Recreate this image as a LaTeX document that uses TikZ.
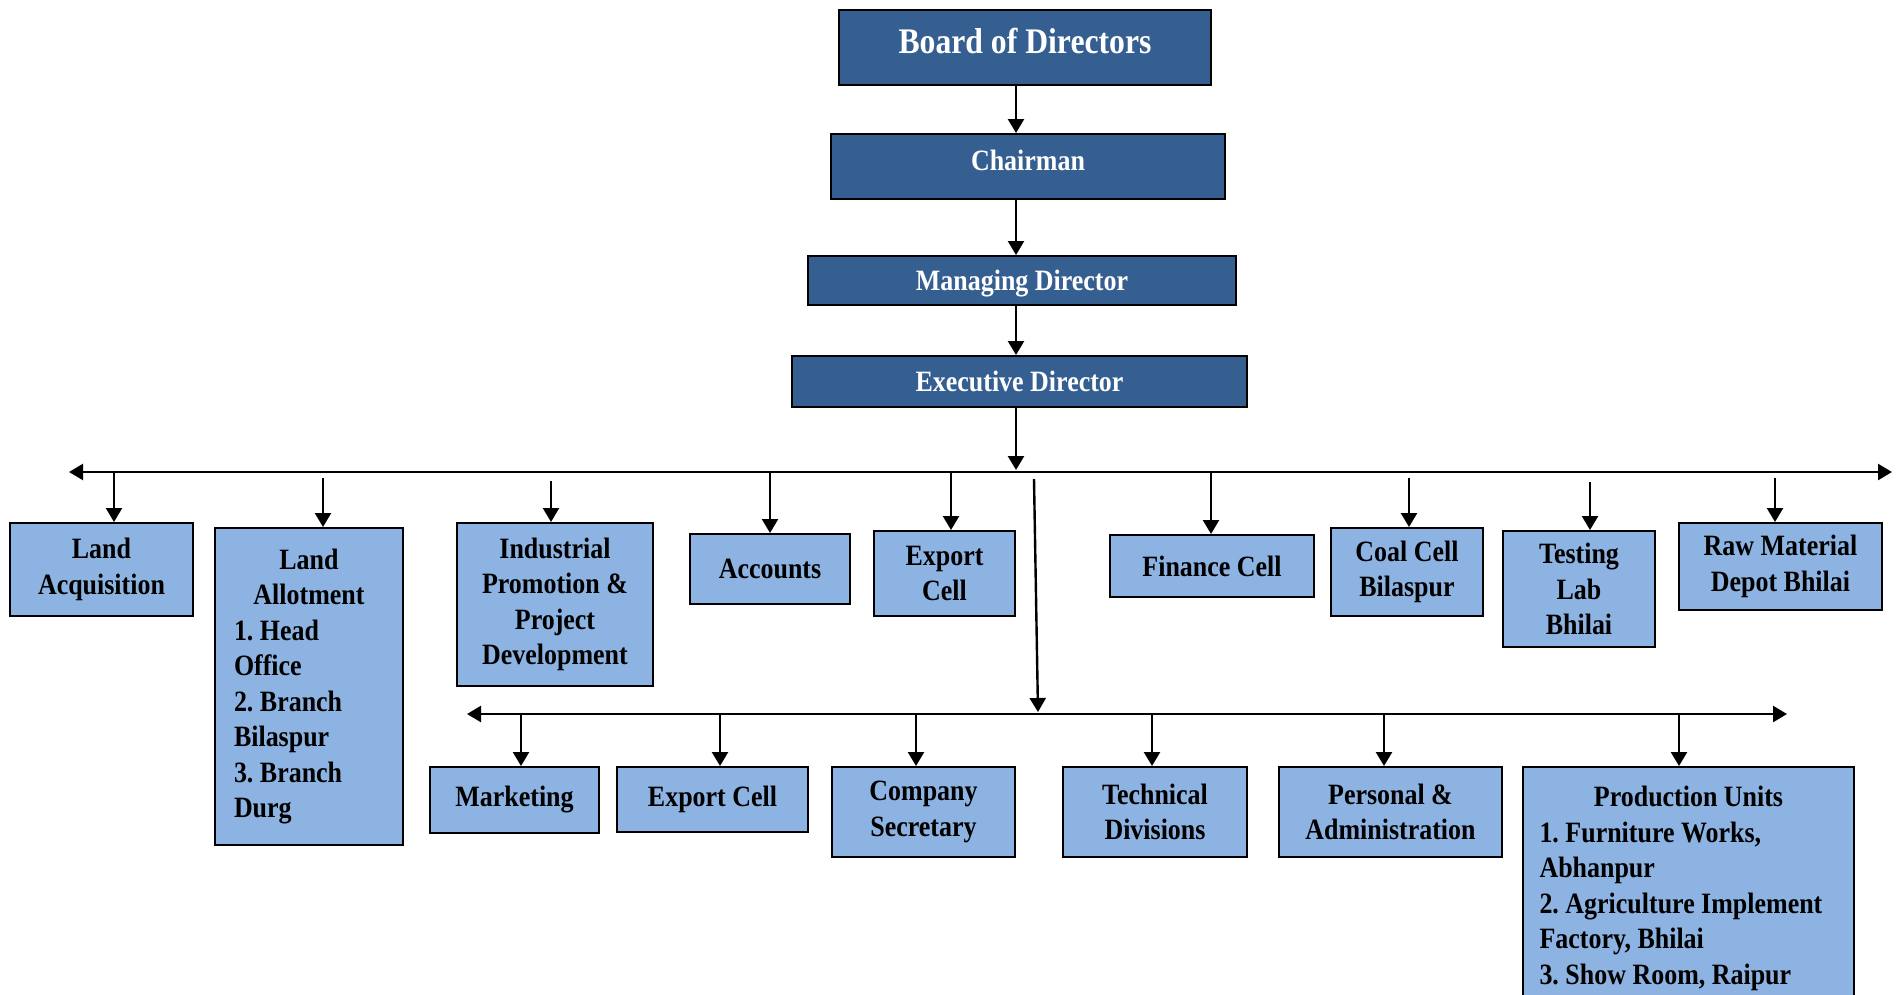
\documentclass[tikz,border=0pt]{standalone}
\usepackage{fontspec}
\setmainfont{Liberation Serif}[FakeStretch=0.88]
\usetikzlibrary{arrows.meta}

\definecolor{headblue}{RGB}{54,95,145}
\definecolor{unitblue}{RGB}{141,179,226}

\tikzset{
  base/.style={draw=black, line width=2pt, inner sep=0pt, align=center,
    font=\fontsize{29.5}{35.5}\selectfont\bfseries\frenchspacing},
  head/.style={base, fill=headblue, text=white},
  unit/.style={base, fill=unitblue, text=black},
  tip/.tip={Triangle[length=14pt,width=16pt]},
  link/.style={line width=2.4pt, -tip},
  bar/.style={line width=2.4pt, tip-tip},
}

\begin{document}
\begin{tikzpicture}[x=1pt,y=-1pt]
\useasboundingbox (0,0) rectangle (1904,994);
\clip (0,0) rectangle (1904,994);

% management chain
\node[head, minimum width=372pt, minimum height=75pt, text depth=14pt,
      font=\fontsize{36}{42}\selectfont\bfseries] (board) at (1025,47.5) {Board of Directors};
\node[head, minimum width=394pt, minimum height=65pt, text depth=13pt] (chair) at (1028,166.5) {Chairman};
\node[head, minimum width=428pt, minimum height=49pt, text depth=0pt] (md) at (1022,280.5) {Managing Director};
\node[head, minimum width=455pt, minimum height=51pt] (ed) at (1019.5,381.5) {Executive Director};

\coordinate (spine) at (1016,0);
\draw[link] (spine |- board.south) -- (spine |- chair.north);
\draw[link] (spine |- chair.south) -- (spine |- md.north);
\draw[link] (spine |- md.south) -- (spine |- ed.north);

% first distribution bar
\coordinate (barL) at (69,472);
\coordinate (barR) at (1892,472);
\draw[bar] (barL) -- (barR);
\draw[link] (spine |- ed.south) -- ([yshift=2pt]spine |- barL);

% departments under the executive director
\node[unit, minimum width=183pt, minimum height=93pt] (la) at (101.5,569.5) {Land\\Acquisition};
\node[unit, minimum width=188pt, minimum height=317pt, align=flush left, text width=150pt] (lall) at (309,686.5)
  {\makebox[150pt]{Land}\\\makebox[150pt]{Allotment}\\1. Head\\Office\\2. Branch\\Bilaspur\\3. Branch\\Durg};
\node[unit, minimum width=196pt, minimum height=163pt] (ippd) at (555,604.5) {Industrial\\Promotion \&\\Project\\Development};
\node[unit, minimum width=160pt, minimum height=70pt] (acc) at (770,569) {Accounts};
\node[unit, minimum width=141pt, minimum height=85pt] (exp) at (944.5,573.5) {Export\\Cell};
\node[unit, minimum width=204pt, minimum height=62pt] (fin) at (1212,566) {Finance Cell};
\node[unit, minimum width=152pt, minimum height=88pt] (coal) at (1407,572) {Coal Cell\\Bilaspur};
\node[unit, minimum width=152pt, minimum height=116pt] (lab) at (1579,589) {Testing\\Lab\\Bhilai};
\node[unit, minimum width=203pt, minimum height=87pt] (raw) at (1780.5,566.5) {Raw Material\\Depot Bhilai};

\coordinate (d1) at (114,472);
\coordinate (d2) at (323,478);
\coordinate (d3) at (551,481);
\coordinate (d4) at (770,472);
\coordinate (d5) at (951,472);
\coordinate (d6) at (1211,472);
\coordinate (d7) at (1409,478);
\coordinate (d8) at (1590,482);
\coordinate (d9) at (1775,478);
\draw[link] (d1) -- (d1 |- la.north);
\draw[link] (d2) -- (d2 |- lall.north);
\draw[link] (d3) -- (d3 |- ippd.north);
\draw[link] (d4) -- (d4 |- acc.north);
\draw[link] (d5) -- (d5 |- exp.north);
\draw[link] (d6) -- (d6 |- fin.north);
\draw[link] (d7) -- (d7 |- coal.north);
\draw[link] (d8) -- (d8 |- lab.north);
\draw[link] (d9) -- (d9 |- raw.north);

% second distribution bar
\coordinate (lowL) at (467,714);
\coordinate (lowR) at (1787,714);
\coordinate (dropTop) at (1034,479);
\coordinate (dropEnd) at (1038,712);
\draw[bar] (lowL) -- (lowR);
\draw[link] (dropTop) -- (dropEnd);

% second row of departments
\node[unit, minimum width=169pt, minimum height=66pt] (mkt) at (514.5,800) {Marketing};
\node[unit, minimum width=191pt, minimum height=65pt] (exp2) at (712.5,799.5) {Export Cell};
\node[unit, minimum width=183pt, minimum height=90pt] (cs) at (923.5,812) {Company\\Secretary};
\node[unit, minimum width=184pt, minimum height=90pt] (tech) at (1155,812) {Technical\\Divisions};
\node[unit, minimum width=223pt, minimum height=90pt] (pa) at (1390.5,812) {Personal \&\\Administration};
\node[unit, minimum width=331pt, minimum height=243pt, align=flush left, text width=298pt] (pu) at (1688.5,888.5)
  {\makebox[298pt]{Production Units}\\1. Furniture Works,\\Abhanpur\\2. Agriculture Implement\\Factory, Bhilai\\3. Show Room, Raipur};

\coordinate (e1) at (521,714);
\coordinate (e2) at (720,714);
\coordinate (e3) at (916,714);
\coordinate (e4) at (1152,714);
\coordinate (e5) at (1384,714);
\coordinate (e6) at (1679,714);
\draw[link] (e1) -- (e1 |- mkt.north);
\draw[link] (e2) -- (e2 |- exp2.north);
\draw[link] (e3) -- (e3 |- cs.north);
\draw[link] (e4) -- (e4 |- tech.north);
\draw[link] (e5) -- (e5 |- pa.north);
\draw[link] (e6) -- (e6 |- pu.north);
\end{tikzpicture}
\end{document}
